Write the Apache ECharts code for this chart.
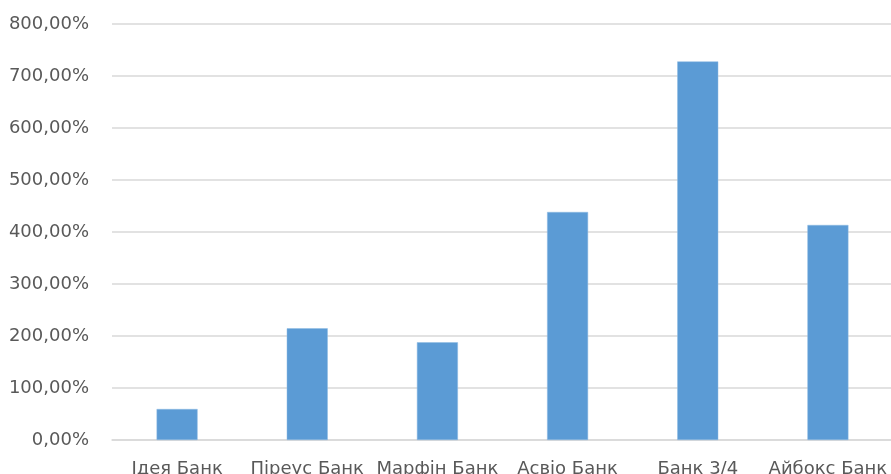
<!DOCTYPE html>
<html>
<head>
<meta charset="utf-8">
<script src="https://cdn.jsdelivr.net/npm/echarts@6/dist/echarts.min.js"></script>
<style>
    html, body { margin: 0; padding: 0; background: #fff; }
    #chart { width: 891px; height: 474px; }
</style>
</head>
<body>
<div id="chart"></div>
<script>
// дані діаграми
var banks = ['Ідея Банк', 'Піреус Банк', 'Марфін Банк', 'Асвіо Банк', 'Банк 3/4', 'Айбокс Банк'];
var values = [59.6, 214.8, 187.9, 438.5, 728, 413.5];
var yTicks = [0, 100, 200, 300, 400, 500, 600, 700, 800];

var chart = echarts.init(document.getElementById('chart'));

var option = {
    animation: false,
    grid: {
        left: 112,
        right: -2,
        top: 24,
        bottom: 34,
        outerBoundsMode: 'none'
    },
    xAxis: {
        type: 'category',
        data: banks,
        axisTick: { show: false },
        axisLine: { lineStyle: { color: '#d9d9d9', width: 1.5 } },
        axisLabel: {
            color: '#595959',
            fontFamily: 'DejaVu Sans',
            fontSize: 18,
            margin: 20,
            interval: 0
        }
    },
    yAxis: {
        type: 'value',
        min: yTicks[0],
        max: yTicks[yTicks.length - 1],
        interval: 100,
        axisLine: { show: false },
        axisTick: { show: false },
        splitLine: { lineStyle: { color: '#d9d9d9', width: 1.5 } },
        axisLabel: {
            color: '#595959',
            fontFamily: 'DejaVu Sans',
            fontSize: 18,
            margin: 23,
            formatter: function (v) {
                return v.toFixed(2).replace('.', ',') + '%';
            }
        }
    },
    series: [{
        type: 'bar',
        data: values,
        barWidth: 41,
        itemStyle: {
            color: '#5b9bd5',
            borderColor: '#8fbbe3',
            borderWidth: 0.5
        }
    }]
};

chart.setOption(option);
</script>
</body>
</html>
